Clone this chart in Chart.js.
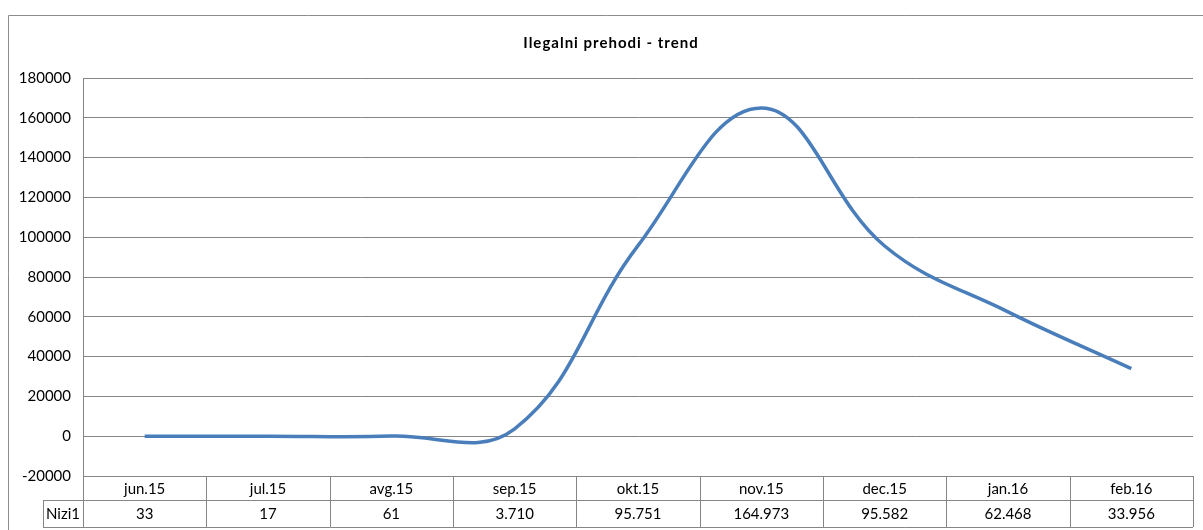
<!DOCTYPE html>
<html>
<head>
<meta charset="utf-8">
<script src="https://cdn.jsdelivr.net/npm/chart.js@4/dist/chart.umd.min.js"></script>
<style>
  html, body { margin: 0; padding: 0; background: #fff; }
  #wrap { width: 1203px; height: 530px; position: relative; }
</style>
</head>
<body>
<div id="wrap"><canvas id="trend"></canvas></div>
<script>
// data
const months = ['jun.15', 'jul.15', 'avg.15', 'sep.15', 'okt.15', 'nov.15', 'dec.15', 'jan.16', 'feb.16'];
const crossings = [33, 17, 61, 3710, 95751, 164973, 95582, 62468, 33956];
const seriesName = 'Nizi1';
const chartTitle = 'Ilegalni prehodi - trend';

const FONT = 'Lato, "Open Sans", sans-serif';
const GRID = '#868686';

// slovene style thousands: 3.710
function fmt(n) {
  return String(n).replace(/\B(?=(\d{3})+(?!\d))/g, '.');
}

// border, title and the data table under the plot
const extras = {
  id: 'extras',
  afterDraw(chart) {
    const ctx = chart.ctx;
    const x = chart.scales.x;
    const area = chart.chartArea;
    ctx.save();

    // outer frame (right/bottom edges run off the picture)
    ctx.strokeStyle = '#8c8c8c';
    ctx.lineWidth = 1;
    ctx.beginPath();
    ctx.moveTo(8.5, 540);
    ctx.lineTo(8.5, 15.5);
    ctx.lineTo(1210, 15.5);
    ctx.stroke();

    ctx.fillStyle = '#000';
    ctx.font = 'bold 15px ' + FONT;
    ctx.letterSpacing = '1px';
    ctx.textAlign = 'center';
    ctx.textBaseline = 'middle';
    ctx.fillText(chartTitle, 611, 43);
    ctx.letterSpacing = '0px';

    // table
    const step = (area.right - area.left) / months.length;
    const top = area.bottom;
    const mid = top + 24;
    const bot = top + 51;
    const labelLeft = 43;
    ctx.strokeStyle = GRID;
    ctx.beginPath();
    ctx.moveTo(area.left, top + 0.5); ctx.lineTo(area.right, top + 0.5);
    ctx.moveTo(labelLeft, mid + 0.5); ctx.lineTo(area.right, mid + 0.5);
    ctx.moveTo(labelLeft, bot + 0.5); ctx.lineTo(area.right, bot + 0.5);
    ctx.moveTo(labelLeft + 0.5, mid); ctx.lineTo(labelLeft + 0.5, bot);
    for (let i = 0; i <= months.length; i++) {
      const bx = Math.round(area.left + i * step) + 0.5;
      ctx.moveTo(bx, top); ctx.lineTo(bx, bot);
    }
    ctx.stroke();

    ctx.font = '15px ' + FONT;
    ctx.fillStyle = '#000';
    months.forEach((m, i) => {
      const cx = x.getPixelForValue(i);
      ctx.fillText(m, cx, (top + mid) / 2 + 1);
      ctx.fillText(fmt(crossings[i]), cx, (mid + bot) / 2 + 1);
    });
    ctx.fillText(seriesName, (labelLeft + area.left) / 2, (mid + bot) / 2 + 1);
    ctx.restore();
  }
};

new Chart(document.getElementById('trend'), {
  type: 'line',
  data: {
    labels: months,
    datasets: [{
      label: seriesName,
      data: crossings,
      borderColor: '#4a7ebb',
      borderWidth: 3.5,
      pointRadius: 0,
      tension: 0.4,
      fill: false
    }]
  },
  options: {
    responsive: true,
    maintainAspectRatio: false,
    animation: false,
    layout: { padding: { left: 0, top: 78, right: 10, bottom: 54 } },
    plugins: { legend: { display: false }, title: { display: false }, tooltip: { enabled: false } },
    scales: {
      x: {
        offset: true,
        ticks: { display: false },
        grid: { display: false },
        border: { display: false },
        afterFit(scale) { scale.height = 0; }
      },
      y: {
        min: -20000,
        max: 180000,
        ticks: {
          stepSize: 20000,
          color: '#000',
          padding: 12,
          font: { family: FONT, size: 15 },
          callback: v => String(v)
        },
        grid: { color: GRID, drawTicks: false },
        border: { color: GRID },
        afterFit(scale) { scale.width = 83; }
      }
    }
  },
  plugins: [extras]
});
</script>
</body>
</html>
